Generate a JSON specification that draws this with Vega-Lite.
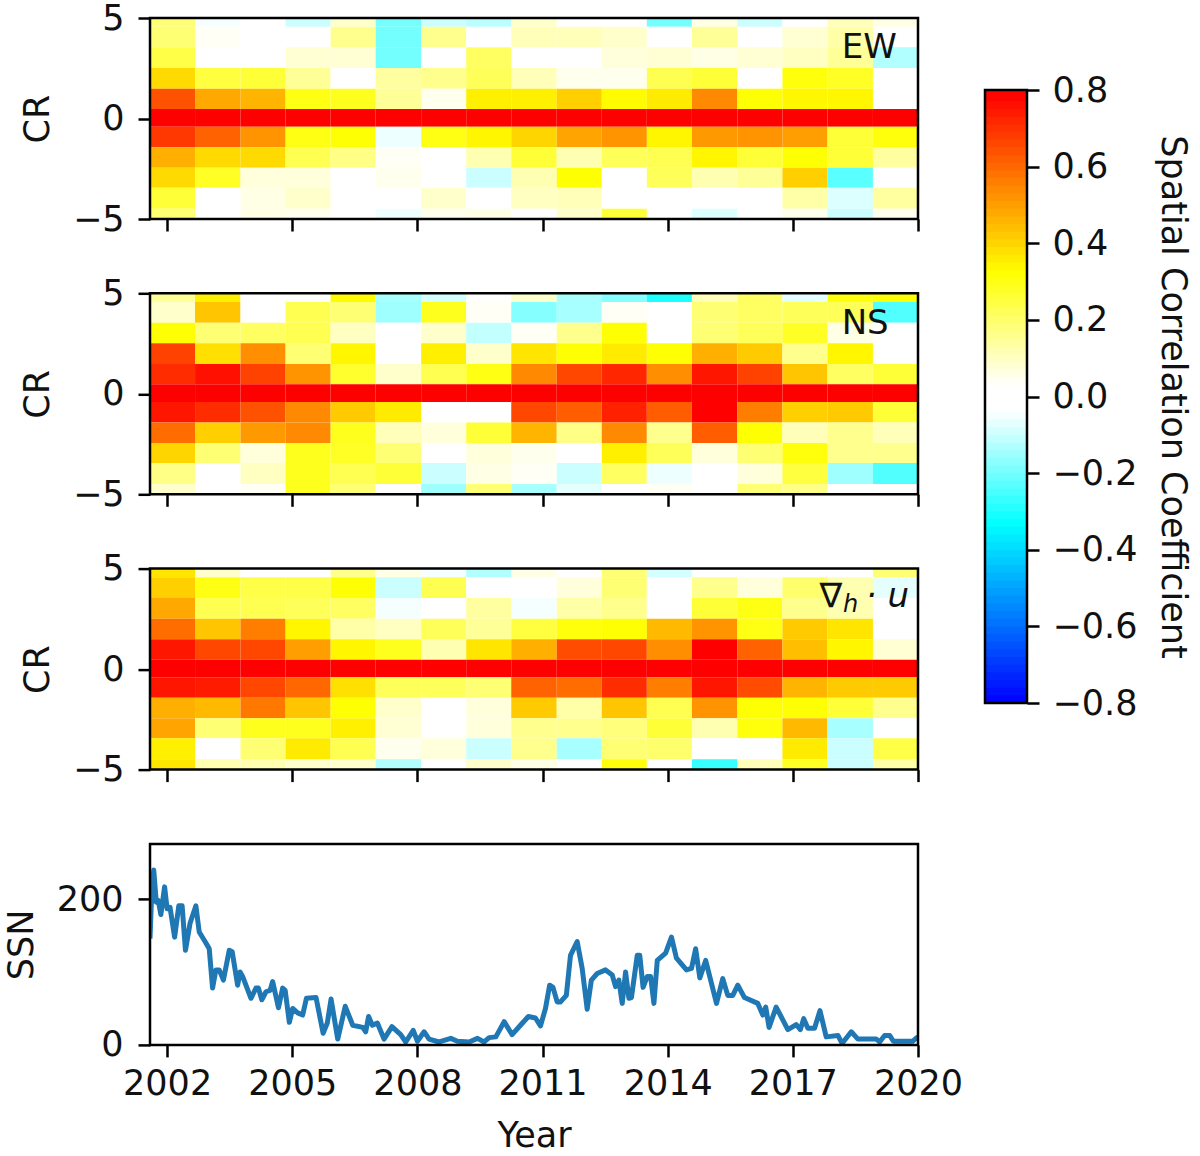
{"$schema":"https://vega.github.io/schema/vega-lite/v6.json","background":"white","padding":{"left":4,"top":1,"right":0,"bottom":0},
"config":{"view":{"stroke":null},"font":"DejaVu Sans","axis":{"labelFont":"DejaVu Sans","titleFont":"DejaVu Sans","labelFontSize":35,"titleFontSize":35,"titleFontWeight":"normal","labelColor":"#111","titleColor":"#111","domain":false,"grid":false,"tickColor":"black","tickWidth":2.5,"tickSize":12,"labelPadding":10,"labelOverlap":false,"labelFlush":false}},
"datasets":{
"cols":[{"n":1,"x0":2001.59,"x1":2002.67},{"n":2,"x0":2002.67,"x1":2003.76},{"n":3,"x0":2003.76,"x1":2004.84},{"n":4,"x0":2004.84,"x1":2005.92},{"n":5,"x0":2005.92,"x1":2007.0},{"n":6,"x0":2007.0,"x1":2008.09},{"n":7,"x0":2008.09,"x1":2009.17},{"n":8,"x0":2009.17,"x1":2010.25},{"n":9,"x0":2010.25,"x1":2011.34},{"n":10,"x0":2011.34,"x1":2012.42},{"n":11,"x0":2012.42,"x1":2013.5},{"n":12,"x0":2013.5,"x1":2014.58},{"n":13,"x0":2014.58,"x1":2015.67},{"n":14,"x0":2015.67,"x1":2016.75},{"n":15,"x0":2016.75,"x1":2017.83},{"n":16,"x0":2017.83,"x1":2018.92},{"n":17,"x0":2018.92,"x1":2020}],
"crs":[{"c":5,"y0":4.57,"y1":5},{"c":4,"y0":3.54,"y1":4.57},{"c":3,"y0":2.51,"y1":3.54},{"c":2,"y0":1.48,"y1":2.51},{"c":1,"y0":0.47,"y1":1.48},{"c":0,"y0":-0.41,"y1":0.47},{"c":-1,"y0":-1.43,"y1":-0.41},{"c":-2,"y0":-2.45,"y1":-1.43},{"c":-3,"y0":-3.44,"y1":-2.45},{"c":-4,"y0":-4.49,"y1":-3.44},{"c":-5,"y0":-5,"y1":-4.49}],
"EW":[
{"n":1,"c":5,"r":0.2},{"n":2,"c":5,"r":-0.05},{"n":3,"c":5,"r":0},{"n":4,"c":5,"r":-0.1},{"n":5,"c":5,"r":0.1},{"n":6,"c":5,"r":-0.2},{"n":7,"c":5,"r":-0.1},{"n":8,"c":5,"r":-0.12},{"n":9,"c":5,"r":0.1},{"n":10,"c":5,"r":0},{"n":11,"c":5,"r":0},{"n":12,"c":5,"r":-0.2},{"n":13,"c":5,"r":0.07},{"n":14,"c":5,"r":-0.1},{"n":15,"c":5,"r":0},{"n":16,"c":5,"r":0.12},{"n":17,"c":5,"r":0.07},
{"n":1,"c":4,"r":0.2},{"n":2,"c":4,"r":0.05},{"n":3,"c":4,"r":0},{"n":4,"c":4,"r":0},{"n":5,"c":4,"r":0.17},{"n":6,"c":4,"r":-0.2},{"n":7,"c":4,"r":0.17},{"n":8,"c":4,"r":0},{"n":9,"c":4,"r":0.12},{"n":10,"c":4,"r":0.12},{"n":11,"c":4,"r":0.1},{"n":12,"c":4,"r":0},{"n":13,"c":4,"r":0.16},{"n":14,"c":4,"r":0},{"n":15,"c":4,"r":0.09},{"n":16,"c":4,"r":0.14},{"n":17,"c":4,"r":0},
{"n":1,"c":3,"r":0.25},{"n":2,"c":3,"r":0},{"n":3,"c":3,"r":0},{"n":4,"c":3,"r":0.09},{"n":5,"c":3,"r":0.09},{"n":6,"c":3,"r":-0.2},{"n":7,"c":3,"r":0},{"n":8,"c":3,"r":0.22},{"n":9,"c":3,"r":0},{"n":10,"c":3,"r":0},{"n":11,"c":3,"r":0.08},{"n":12,"c":3,"r":0.09},{"n":13,"c":3,"r":0.07},{"n":14,"c":3,"r":0.09},{"n":15,"c":3,"r":0.11},{"n":16,"c":3,"r":0.16},{"n":17,"c":3,"r":-0.13},
{"n":1,"c":2,"r":0.4},{"n":2,"c":2,"r":0.26},{"n":3,"c":2,"r":0.27},{"n":4,"c":2,"r":0.16},{"n":5,"c":2,"r":0},{"n":6,"c":2,"r":0.15},{"n":7,"c":2,"r":0.17},{"n":8,"c":2,"r":0.23},{"n":9,"c":2,"r":0.12},{"n":10,"c":2,"r":0.06},{"n":11,"c":2,"r":0.06},{"n":12,"c":2,"r":0.24},{"n":13,"c":2,"r":0.27},{"n":14,"c":2,"r":0},{"n":15,"c":2,"r":0.32},{"n":16,"c":2,"r":0.29},{"n":17,"c":2,"r":0},
{"n":1,"c":1,"r":0.65},{"n":2,"c":1,"r":0.49},{"n":3,"c":1,"r":0.47},{"n":4,"c":1,"r":0.31},{"n":5,"c":1,"r":0.3},{"n":6,"c":1,"r":0.16},{"n":7,"c":1,"r":0.06},{"n":8,"c":1,"r":0.36},{"n":9,"c":1,"r":0.36},{"n":10,"c":1,"r":0.42},{"n":11,"c":1,"r":0.34},{"n":12,"c":1,"r":0.37},{"n":13,"c":1,"r":0.55},{"n":14,"c":1,"r":0.33},{"n":15,"c":1,"r":0.35},{"n":16,"c":1,"r":0.35},{"n":17,"c":1,"r":0},
{"n":1,"c":0,"r":0.8},{"n":2,"c":0,"r":0.8},{"n":3,"c":0,"r":0.8},{"n":4,"c":0,"r":0.8},{"n":5,"c":0,"r":0.8},{"n":6,"c":0,"r":0.8},{"n":7,"c":0,"r":0.8},{"n":8,"c":0,"r":0.8},{"n":9,"c":0,"r":0.8},{"n":10,"c":0,"r":0.8},{"n":11,"c":0,"r":0.8},{"n":12,"c":0,"r":0.8},{"n":13,"c":0,"r":0.8},{"n":14,"c":0,"r":0.8},{"n":15,"c":0,"r":0.8},{"n":16,"c":0,"r":0.8},{"n":17,"c":0,"r":0.8},
{"n":1,"c":-1,"r":0.7},{"n":2,"c":-1,"r":0.62},{"n":3,"c":-1,"r":0.53},{"n":4,"c":-1,"r":0.31},{"n":5,"c":-1,"r":0.33},{"n":6,"c":-1,"r":-0.06},{"n":7,"c":-1,"r":0.31},{"n":8,"c":-1,"r":0.35},{"n":9,"c":-1,"r":0.41},{"n":10,"c":-1,"r":0.5},{"n":11,"c":-1,"r":0.53},{"n":12,"c":-1,"r":0.35},{"n":13,"c":-1,"r":0.52},{"n":14,"c":-1,"r":0.53},{"n":15,"c":-1,"r":0.51},{"n":16,"c":-1,"r":0.27},{"n":17,"c":-1,"r":0.32},
{"n":1,"c":-2,"r":0.48},{"n":2,"c":-2,"r":0.4},{"n":3,"c":-2,"r":0.4},{"n":4,"c":-2,"r":0.24},{"n":5,"c":-2,"r":0.18},{"n":6,"c":-2,"r":0.05},{"n":7,"c":-2,"r":0},{"n":8,"c":-2,"r":0.13},{"n":9,"c":-2,"r":0.27},{"n":10,"c":-2,"r":0.13},{"n":11,"c":-2,"r":0.23},{"n":12,"c":-2,"r":0.24},{"n":13,"c":-2,"r":0.35},{"n":14,"c":-2,"r":0.27},{"n":15,"c":-2,"r":0.33},{"n":16,"c":-2,"r":0.27},{"n":17,"c":-2,"r":0.15},
{"n":1,"c":-3,"r":0.4},{"n":2,"c":-3,"r":0.29},{"n":3,"c":-3,"r":0.08},{"n":4,"c":-3,"r":0.08},{"n":5,"c":-3,"r":0},{"n":6,"c":-3,"r":0.06},{"n":7,"c":-3,"r":0},{"n":8,"c":-3,"r":-0.1},{"n":9,"c":-3,"r":0.13},{"n":10,"c":-3,"r":0.33},{"n":11,"c":-3,"r":0.04},{"n":12,"c":-3,"r":0.23},{"n":13,"c":-3,"r":0.13},{"n":14,"c":-3,"r":0.16},{"n":15,"c":-3,"r":0.42},{"n":16,"c":-3,"r":-0.23},{"n":17,"c":-3,"r":0},
{"n":1,"c":-4,"r":0.27},{"n":2,"c":-4,"r":0},{"n":3,"c":-4,"r":0.07},{"n":4,"c":-4,"r":0.1},{"n":5,"c":-4,"r":0},{"n":6,"c":-4,"r":0},{"n":7,"c":-4,"r":0.1},{"n":8,"c":-4,"r":0},{"n":9,"c":-4,"r":0.11},{"n":10,"c":-4,"r":0.12},{"n":11,"c":-4,"r":0.04},{"n":12,"c":-4,"r":0},{"n":13,"c":-4,"r":0},{"n":14,"c":-4,"r":0},{"n":15,"c":-4,"r":0.14},{"n":16,"c":-4,"r":-0.08},{"n":17,"c":-4,"r":0.15},
{"n":1,"c":-5,"r":0.2},{"n":2,"c":-5,"r":0},{"n":3,"c":-5,"r":0.07},{"n":4,"c":-5,"r":0.06},{"n":5,"c":-5,"r":0},{"n":6,"c":-5,"r":-0.06},{"n":7,"c":-5,"r":0.06},{"n":8,"c":-5,"r":0.07},{"n":9,"c":-5,"r":0},{"n":10,"c":-5,"r":0.1},{"n":11,"c":-5,"r":0.27},{"n":12,"c":-5,"r":0},{"n":13,"c":-5,"r":-0.08},{"n":14,"c":-5,"r":0},{"n":15,"c":-5,"r":0.06},{"n":16,"c":-5,"r":-0.1},{"n":17,"c":-5,"r":0.06}],
"NS":[
{"n":1,"c":5,"r":0.16},{"n":2,"c":5,"r":0.36},{"n":3,"c":5,"r":0},{"n":4,"c":5,"r":0},{"n":5,"c":5,"r":0.34},{"n":6,"c":5,"r":-0.14},{"n":7,"c":5,"r":-0.09},{"n":8,"c":5,"r":0},{"n":9,"c":5,"r":0.1},{"n":10,"c":5,"r":-0.14},{"n":11,"c":5,"r":-0.18},{"n":12,"c":5,"r":-0.3},{"n":13,"c":5,"r":0.12},{"n":14,"c":5,"r":0.22},{"n":15,"c":5,"r":-0.07},{"n":16,"c":5,"r":0.32},{"n":17,"c":5,"r":0.33},
{"n":1,"c":4,"r":0.1},{"n":2,"c":4,"r":0.44},{"n":3,"c":4,"r":0},{"n":4,"c":4,"r":0.24},{"n":5,"c":4,"r":0.2},{"n":6,"c":4,"r":-0.15},{"n":7,"c":4,"r":0.3},{"n":8,"c":4,"r":0.05},{"n":9,"c":4,"r":-0.18},{"n":10,"c":4,"r":-0.14},{"n":11,"c":4,"r":0.05},{"n":12,"c":4,"r":0},{"n":13,"c":4,"r":0.2},{"n":14,"c":4,"r":0.22},{"n":15,"c":4,"r":0.23},{"n":16,"c":4,"r":0.23},{"n":17,"c":4,"r":-0.24},
{"n":1,"c":3,"r":0.33},{"n":2,"c":3,"r":0.2},{"n":3,"c":3,"r":0.22},{"n":4,"c":3,"r":0.24},{"n":5,"c":3,"r":0.11},{"n":6,"c":3,"r":0},{"n":7,"c":3,"r":0.1},{"n":8,"c":3,"r":-0.11},{"n":9,"c":3,"r":0.05},{"n":10,"c":3,"r":0.17},{"n":11,"c":3,"r":0.33},{"n":12,"c":3,"r":0},{"n":13,"c":3,"r":0.2},{"n":14,"c":3,"r":0.23},{"n":15,"c":3,"r":0.29},{"n":16,"c":3,"r":0.07},{"n":17,"c":3,"r":0},
{"n":1,"c":2,"r":0.68},{"n":2,"c":2,"r":0.39},{"n":3,"c":2,"r":0.54},{"n":4,"c":2,"r":0.2},{"n":5,"c":2,"r":0.35},{"n":6,"c":2,"r":0},{"n":7,"c":2,"r":0.36},{"n":8,"c":2,"r":0.1},{"n":9,"c":2,"r":0.38},{"n":10,"c":2,"r":0.33},{"n":11,"c":2,"r":0.37},{"n":12,"c":2,"r":0.33},{"n":13,"c":2,"r":0.48},{"n":14,"c":2,"r":0.43},{"n":15,"c":2,"r":0.17},{"n":16,"c":2,"r":0.35},{"n":17,"c":2,"r":0},
{"n":1,"c":1,"r":0.72},{"n":2,"c":1,"r":0.77},{"n":3,"c":1,"r":0.68},{"n":4,"c":1,"r":0.53},{"n":5,"c":1,"r":0.28},{"n":6,"c":1,"r":0.1},{"n":7,"c":1,"r":0.24},{"n":8,"c":1,"r":0.31},{"n":9,"c":1,"r":0.55},{"n":10,"c":1,"r":0.67},{"n":11,"c":1,"r":0.73},{"n":12,"c":1,"r":0.54},{"n":13,"c":1,"r":0.76},{"n":14,"c":1,"r":0.68},{"n":15,"c":1,"r":0.44},{"n":16,"c":1,"r":0.22},{"n":17,"c":1,"r":0.27},
{"n":1,"c":0,"r":0.8},{"n":2,"c":0,"r":0.8},{"n":3,"c":0,"r":0.8},{"n":4,"c":0,"r":0.8},{"n":5,"c":0,"r":0.8},{"n":6,"c":0,"r":0.8},{"n":7,"c":0,"r":0.8},{"n":8,"c":0,"r":0.8},{"n":9,"c":0,"r":0.8},{"n":10,"c":0,"r":0.8},{"n":11,"c":0,"r":0.8},{"n":12,"c":0,"r":0.8},{"n":13,"c":0,"r":0.8},{"n":14,"c":0,"r":0.8},{"n":15,"c":0,"r":0.8},{"n":16,"c":0,"r":0.8},{"n":17,"c":0,"r":0.8},
{"n":1,"c":-1,"r":0.76},{"n":2,"c":-1,"r":0.72},{"n":3,"c":-1,"r":0.65},{"n":4,"c":-1,"r":0.55},{"n":5,"c":-1,"r":0.43},{"n":6,"c":-1,"r":0.37},{"n":7,"c":-1,"r":0},{"n":8,"c":-1,"r":0},{"n":9,"c":-1,"r":0.67},{"n":10,"c":-1,"r":0.63},{"n":11,"c":-1,"r":0.74},{"n":12,"c":-1,"r":0.63},{"n":13,"c":-1,"r":0.8},{"n":14,"c":-1,"r":0.57},{"n":15,"c":-1,"r":0.42},{"n":16,"c":-1,"r":0.43},{"n":17,"c":-1,"r":0.27},
{"n":1,"c":-2,"r":0.6},{"n":2,"c":-2,"r":0.42},{"n":3,"c":-2,"r":0.52},{"n":4,"c":-2,"r":0.55},{"n":5,"c":-2,"r":0.3},{"n":6,"c":-2,"r":0.12},{"n":7,"c":-2,"r":0.08},{"n":8,"c":-2,"r":0.27},{"n":9,"c":-2,"r":0.47},{"n":10,"c":-2,"r":0.18},{"n":11,"c":-2,"r":0.55},{"n":12,"c":-2,"r":0.17},{"n":13,"c":-2,"r":0.63},{"n":14,"c":-2,"r":0.33},{"n":15,"c":-2,"r":0.12},{"n":16,"c":-2,"r":0.17},{"n":17,"c":-2,"r":0.12},
{"n":1,"c":-3,"r":0.41},{"n":2,"c":-3,"r":0.2},{"n":3,"c":-3,"r":0.08},{"n":4,"c":-3,"r":0.3},{"n":5,"c":-3,"r":0.29},{"n":6,"c":-3,"r":0.2},{"n":7,"c":-3,"r":0},{"n":8,"c":-3,"r":0.08},{"n":9,"c":-3,"r":0.06},{"n":10,"c":-3,"r":0},{"n":11,"c":-3,"r":0.36},{"n":12,"c":-3,"r":0.23},{"n":13,"c":-3,"r":0.08},{"n":14,"c":-3,"r":0.2},{"n":15,"c":-3,"r":0.32},{"n":16,"c":-3,"r":0.17},{"n":17,"c":-3,"r":0.17},
{"n":1,"c":-4,"r":0.18},{"n":2,"c":-4,"r":0},{"n":3,"c":-4,"r":0.11},{"n":4,"c":-4,"r":0.3},{"n":5,"c":-4,"r":0.24},{"n":6,"c":-4,"r":0.27},{"n":7,"c":-4,"r":-0.1},{"n":8,"c":-4,"r":0.07},{"n":9,"c":-4,"r":0.05},{"n":10,"c":-4,"r":-0.1},{"n":11,"c":-4,"r":0.22},{"n":12,"c":-4,"r":-0.06},{"n":13,"c":-4,"r":0},{"n":14,"c":-4,"r":0.08},{"n":15,"c":-4,"r":0.26},{"n":16,"c":-4,"r":-0.15},{"n":17,"c":-4,"r":-0.24},
{"n":1,"c":-5,"r":0.1},{"n":2,"c":-5,"r":0.04},{"n":3,"c":-5,"r":0.05},{"n":4,"c":-5,"r":0.3},{"n":5,"c":-5,"r":0.2},{"n":6,"c":-5,"r":0},{"n":7,"c":-5,"r":-0.15},{"n":8,"c":-5,"r":0.2},{"n":9,"c":-5,"r":-0.14},{"n":10,"c":-5,"r":-0.07},{"n":11,"c":-5,"r":0.04},{"n":12,"c":-5,"r":0.05},{"n":13,"c":-5,"r":0},{"n":14,"c":-5,"r":0.2},{"n":15,"c":-5,"r":0.18},{"n":16,"c":-5,"r":0},{"n":17,"c":-5,"r":0.04}],
"DIV":[
{"n":1,"c":5,"r":0.38},{"n":2,"c":5,"r":0.1},{"n":3,"c":5,"r":0},{"n":4,"c":5,"r":0},{"n":5,"c":5,"r":0.17},{"n":6,"c":5,"r":0.07},{"n":7,"c":5,"r":-0.05},{"n":8,"c":5,"r":-0.13},{"n":9,"c":5,"r":0.07},{"n":10,"c":5,"r":0},{"n":11,"c":5,"r":0.2},{"n":12,"c":5,"r":-0.09},{"n":13,"c":5,"r":0},{"n":14,"c":5,"r":0},{"n":15,"c":5,"r":0},{"n":16,"c":5,"r":0.04},{"n":17,"c":5,"r":0.2},
{"n":1,"c":4,"r":0.42},{"n":2,"c":4,"r":0.31},{"n":3,"c":4,"r":0.25},{"n":4,"c":4,"r":0.25},{"n":5,"c":4,"r":0.33},{"n":6,"c":4,"r":-0.1},{"n":7,"c":4,"r":0.24},{"n":8,"c":4,"r":0},{"n":9,"c":4,"r":0},{"n":10,"c":4,"r":0.08},{"n":11,"c":4,"r":0.2},{"n":12,"c":4,"r":0},{"n":13,"c":4,"r":0.17},{"n":14,"c":4,"r":0.08},{"n":15,"c":4,"r":0.21},{"n":16,"c":4,"r":0.13},{"n":17,"c":4,"r":-0.07},
{"n":1,"c":3,"r":0.49},{"n":2,"c":3,"r":0.24},{"n":3,"c":3,"r":0.24},{"n":4,"c":3,"r":0.23},{"n":5,"c":3,"r":0.22},{"n":6,"c":3,"r":-0.05},{"n":7,"c":3,"r":0},{"n":8,"c":3,"r":0.15},{"n":9,"c":3,"r":-0.05},{"n":10,"c":3,"r":0.14},{"n":11,"c":3,"r":0.17},{"n":12,"c":3,"r":0.03},{"n":13,"c":3,"r":0.27},{"n":14,"c":3,"r":0.31},{"n":15,"c":3,"r":0.17},{"n":16,"c":3,"r":0.13},{"n":17,"c":3,"r":0},
{"n":1,"c":2,"r":0.6},{"n":2,"c":2,"r":0.44},{"n":3,"c":2,"r":0.57},{"n":4,"c":2,"r":0.35},{"n":5,"c":2,"r":0.14},{"n":6,"c":2,"r":0.11},{"n":7,"c":2,"r":0.23},{"n":8,"c":2,"r":0.16},{"n":9,"c":2,"r":0.26},{"n":10,"c":2,"r":0.32},{"n":11,"c":2,"r":0.33},{"n":12,"c":2,"r":0.46},{"n":13,"c":2,"r":0.53},{"n":14,"c":2,"r":0.31},{"n":15,"c":2,"r":0.43},{"n":16,"c":2,"r":0.38},{"n":17,"c":2,"r":0},
{"n":1,"c":1,"r":0.76},{"n":2,"c":1,"r":0.67},{"n":3,"c":1,"r":0.67},{"n":4,"c":1,"r":0.51},{"n":5,"c":1,"r":0.35},{"n":6,"c":1,"r":0.3},{"n":7,"c":1,"r":0.13},{"n":8,"c":1,"r":0.38},{"n":9,"c":1,"r":0.48},{"n":10,"c":1,"r":0.66},{"n":11,"c":1,"r":0.67},{"n":12,"c":1,"r":0.54},{"n":13,"c":1,"r":0.8},{"n":14,"c":1,"r":0.62},{"n":15,"c":1,"r":0.45},{"n":16,"c":1,"r":0.35},{"n":17,"c":1,"r":0.09},
{"n":1,"c":0,"r":0.8},{"n":2,"c":0,"r":0.8},{"n":3,"c":0,"r":0.8},{"n":4,"c":0,"r":0.8},{"n":5,"c":0,"r":0.8},{"n":6,"c":0,"r":0.8},{"n":7,"c":0,"r":0.8},{"n":8,"c":0,"r":0.8},{"n":9,"c":0,"r":0.8},{"n":10,"c":0,"r":0.8},{"n":11,"c":0,"r":0.8},{"n":12,"c":0,"r":0.8},{"n":13,"c":0,"r":0.8},{"n":14,"c":0,"r":0.8},{"n":15,"c":0,"r":0.8},{"n":16,"c":0,"r":0.8},{"n":17,"c":0,"r":0.8},
{"n":1,"c":-1,"r":0.76},{"n":2,"c":-1,"r":0.75},{"n":3,"c":-1,"r":0.67},{"n":4,"c":-1,"r":0.61},{"n":5,"c":-1,"r":0.39},{"n":6,"c":-1,"r":0.23},{"n":7,"c":-1,"r":0.23},{"n":8,"c":-1,"r":0.2},{"n":9,"c":-1,"r":0.62},{"n":10,"c":-1,"r":0.6},{"n":11,"c":-1,"r":0.72},{"n":12,"c":-1,"r":0.57},{"n":13,"c":-1,"r":0.76},{"n":14,"c":-1,"r":0.66},{"n":15,"c":-1,"r":0.47},{"n":16,"c":-1,"r":0.43},{"n":17,"c":-1,"r":0.43},
{"n":1,"c":-2,"r":0.48},{"n":2,"c":-2,"r":0.46},{"n":3,"c":-2,"r":0.58},{"n":4,"c":-2,"r":0.44},{"n":5,"c":-2,"r":0.33},{"n":6,"c":-2,"r":0.1},{"n":7,"c":-2,"r":0},{"n":8,"c":-2,"r":0.08},{"n":9,"c":-2,"r":0.43},{"n":10,"c":-2,"r":0.14},{"n":11,"c":-2,"r":0.44},{"n":12,"c":-2,"r":0.24},{"n":13,"c":-2,"r":0.53},{"n":14,"c":-2,"r":0.33},{"n":15,"c":-2,"r":0.33},{"n":16,"c":-2,"r":0.27},{"n":17,"c":-2,"r":0.17},
{"n":1,"c":-3,"r":0.5},{"n":2,"c":-3,"r":0.2},{"n":3,"c":-3,"r":0.3},{"n":4,"c":-3,"r":0.3},{"n":5,"c":-3,"r":0.36},{"n":6,"c":-3,"r":0.09},{"n":7,"c":-3,"r":0},{"n":8,"c":-3,"r":0.08},{"n":9,"c":-3,"r":0.17},{"n":10,"c":-3,"r":0.17},{"n":11,"c":-3,"r":0.19},{"n":12,"c":-3,"r":0.27},{"n":13,"c":-3,"r":0.13},{"n":14,"c":-3,"r":0.32},{"n":15,"c":-3,"r":0.46},{"n":16,"c":-3,"r":-0.14},{"n":17,"c":-3,"r":0},
{"n":1,"c":-4,"r":0.36},{"n":2,"c":-4,"r":0},{"n":3,"c":-4,"r":0.2},{"n":4,"c":-4,"r":0.37},{"n":5,"c":-4,"r":0.24},{"n":6,"c":-4,"r":0.06},{"n":7,"c":-4,"r":0.08},{"n":8,"c":-4,"r":-0.1},{"n":9,"c":-4,"r":0.17},{"n":10,"c":-4,"r":-0.14},{"n":11,"c":-4,"r":0.2},{"n":12,"c":-4,"r":0.21},{"n":13,"c":-4,"r":0},{"n":14,"c":-4,"r":0},{"n":15,"c":-4,"r":0.37},{"n":16,"c":-4,"r":-0.1},{"n":17,"c":-4,"r":0.25},
{"n":1,"c":-5,"r":0.38},{"n":2,"c":-5,"r":0.13},{"n":3,"c":-5,"r":0.13},{"n":4,"c":-5,"r":0.1},{"n":5,"c":-5,"r":0.1},{"n":6,"c":-5,"r":-0.13},{"n":7,"c":-5,"r":0},{"n":8,"c":-5,"r":0.1},{"n":9,"c":-5,"r":0.07},{"n":10,"c":-5,"r":0},{"n":11,"c":-5,"r":0.32},{"n":12,"c":-5,"r":0},{"n":13,"c":-5,"r":-0.27},{"n":14,"c":-5,"r":0.12},{"n":15,"c":-5,"r":0.29},{"n":16,"c":-5,"r":-0.1},{"n":17,"c":-5,"r":0.14}],
"frame":[{"x0":2001.59,"x1":2020,"y0":-5,"y1":5}],
"ssn":[{"y":2001.59,"s":146},{"y":2001.62,"s":192},{"y":2001.68,"s":240},{"y":2001.74,"s":196},{"y":2001.79,"s":198},{"y":2001.85,"s":179},{"y":2001.94,"s":217},{"y":2002,"s":187},{"y":2002.07,"s":189},{"y":2002.18,"s":148},{"y":2002.28,"s":191},{"y":2002.36,"s":191},{"y":2002.44,"s":130},{"y":2002.55,"s":167},{"y":2002.69,"s":191},{"y":2002.77,"s":155},{"y":2002.92,"s":141},{"y":2003.01,"s":132},{"y":2003.09,"s":78},{"y":2003.17,"s":103},{"y":2003.25,"s":103},{"y":2003.35,"s":89},{"y":2003.49,"s":130},{"y":2003.56,"s":128},{"y":2003.69,"s":82},{"y":2003.75,"s":100},{"y":2003.81,"s":94},{"y":2004.01,"s":64},{"y":2004.13,"s":78},{"y":2004.19,"s":78},{"y":2004.27,"s":62},{"y":2004.37,"s":73},{"y":2004.47,"s":75},{"y":2004.53,"s":87},{"y":2004.67,"s":51},{"y":2004.77,"s":78},{"y":2004.83,"s":75},{"y":2004.93,"s":31},{"y":2005.01,"s":50},{"y":2005.13,"s":44},{"y":2005.25,"s":41},{"y":2005.34,"s":64},{"y":2005.57,"s":65},{"y":2005.74,"s":16},{"y":2005.84,"s":30},{"y":2005.93,"s":63},{"y":2006.09,"s":8},{"y":2006.27,"s":53},{"y":2006.45,"s":27},{"y":2006.69,"s":24},{"y":2006.76,"s":18},{"y":2006.83,"s":39},{"y":2006.92,"s":27},{"y":2007.04,"s":30},{"y":2007.2,"s":8},{"y":2007.39,"s":25},{"y":2007.6,"s":14},{"y":2007.72,"s":4},{"y":2007.9,"s":20},{"y":2008,"s":5},{"y":2008.16,"s":18},{"y":2008.28,"s":8},{"y":2008.52,"s":4},{"y":2008.8,"s":9},{"y":2008.96,"s":5},{"y":2009.24,"s":4},{"y":2009.44,"s":9},{"y":2009.6,"s":4},{"y":2009.72,"s":10},{"y":2009.88,"s":11},{"y":2010.08,"s":32},{"y":2010.27,"s":14},{"y":2010.47,"s":27},{"y":2010.66,"s":39},{"y":2010.83,"s":37},{"y":2010.95,"s":26},{"y":2011.07,"s":50},{"y":2011.17,"s":82},{"y":2011.25,"s":79},{"y":2011.35,"s":59},{"y":2011.43,"s":59},{"y":2011.57,"s":68},{"y":2011.67,"s":123},{"y":2011.83,"s":142},{"y":2011.95,"s":105},{"y":2012.07,"s":49},{"y":2012.17,"s":89},{"y":2012.31,"s":98},{"y":2012.51,"s":103},{"y":2012.67,"s":96},{"y":2012.75,"s":80},{"y":2012.83,"s":89},{"y":2012.91,"s":57},{"y":2012.99,"s":100},{"y":2013.07,"s":64},{"y":2013.13,"s":65},{"y":2013.27,"s":123},{"y":2013.33,"s":123},{"y":2013.41,"s":79},{"y":2013.51,"s":94},{"y":2013.59,"s":94},{"y":2013.67,"s":57},{"y":2013.75,"s":116},{"y":2013.95,"s":126},{"y":2014.09,"s":148},{"y":2014.21,"s":119},{"y":2014.45,"s":103},{"y":2014.57,"s":105},{"y":2014.67,"s":132},{"y":2014.77,"s":92},{"y":2014.91,"s":116},{"y":2015.17,"s":57},{"y":2015.32,"s":91},{"y":2015.44,"s":68},{"y":2015.56,"s":68},{"y":2015.68,"s":82},{"y":2015.84,"s":65},{"y":2016.16,"s":57},{"y":2016.28,"s":41},{"y":2016.35,"s":52},{"y":2016.43,"s":24},{"y":2016.6,"s":52},{"y":2016.88,"s":21},{"y":2017.08,"s":28},{"y":2017.18,"s":21},{"y":2017.26,"s":36},{"y":2017.36,"s":23},{"y":2017.52,"s":23},{"y":2017.65,"s":47},{"y":2017.8,"s":11},{"y":2018.08,"s":13},{"y":2018.18,"s":2},{"y":2018.4,"s":18},{"y":2018.56,"s":8},{"y":2019,"s":8},{"y":2019.08,"s":4},{"y":2019.2,"s":13},{"y":2019.32,"s":13},{"y":2019.41,"s":5},{"y":2019.87,"s":5},{"y":2019.97,"s":10},{"y":2020,"s":6}],
"ramp":[{"lo":-0.8,"hi":-0.77,"r":-0.79},{"lo":-0.78,"hi":-0.75,"r":-0.77},{"lo":-0.76,"hi":-0.73,"r":-0.75},{"lo":-0.74,"hi":-0.71,"r":-0.73},{"lo":-0.72,"hi":-0.69,"r":-0.71},{"lo":-0.7,"hi":-0.67,"r":-0.69},{"lo":-0.68,"hi":-0.65,"r":-0.67},{"lo":-0.66,"hi":-0.63,"r":-0.65},{"lo":-0.64,"hi":-0.61,"r":-0.63},{"lo":-0.62,"hi":-0.59,"r":-0.61},{"lo":-0.6,"hi":-0.57,"r":-0.59},{"lo":-0.58,"hi":-0.55,"r":-0.57},{"lo":-0.56,"hi":-0.53,"r":-0.55},{"lo":-0.54,"hi":-0.51,"r":-0.53},{"lo":-0.52,"hi":-0.49,"r":-0.51},{"lo":-0.5,"hi":-0.47,"r":-0.49},{"lo":-0.48,"hi":-0.45,"r":-0.47},{"lo":-0.46,"hi":-0.43,"r":-0.45},{"lo":-0.44,"hi":-0.41,"r":-0.43},{"lo":-0.42,"hi":-0.39,"r":-0.41},{"lo":-0.4,"hi":-0.37,"r":-0.39},{"lo":-0.38,"hi":-0.35,"r":-0.37},{"lo":-0.36,"hi":-0.33,"r":-0.35},{"lo":-0.34,"hi":-0.31,"r":-0.33},{"lo":-0.32,"hi":-0.29,"r":-0.31},{"lo":-0.3,"hi":-0.27,"r":-0.29},{"lo":-0.28,"hi":-0.25,"r":-0.27},{"lo":-0.26,"hi":-0.23,"r":-0.25},{"lo":-0.24,"hi":-0.21,"r":-0.23},{"lo":-0.22,"hi":-0.19,"r":-0.21},{"lo":-0.2,"hi":-0.17,"r":-0.19},{"lo":-0.18,"hi":-0.15,"r":-0.17},{"lo":-0.16,"hi":-0.13,"r":-0.15},{"lo":-0.14,"hi":-0.11,"r":-0.13},{"lo":-0.12,"hi":-0.09,"r":-0.11},{"lo":-0.1,"hi":-0.07,"r":-0.09},{"lo":-0.08,"hi":-0.05,"r":-0.07},{"lo":-0.06,"hi":-0.03,"r":-0.05},{"lo":-0.04,"hi":0.04,"r":0},{"lo":0.03,"hi":0.06,"r":0.05},{"lo":0.05,"hi":0.08,"r":0.07},{"lo":0.07,"hi":0.1,"r":0.09},{"lo":0.09,"hi":0.12,"r":0.11},{"lo":0.11,"hi":0.14,"r":0.13},{"lo":0.13,"hi":0.16,"r":0.15},{"lo":0.15,"hi":0.18,"r":0.17},{"lo":0.17,"hi":0.2,"r":0.19},{"lo":0.19,"hi":0.22,"r":0.21},{"lo":0.21,"hi":0.24,"r":0.23},{"lo":0.23,"hi":0.26,"r":0.25},{"lo":0.25,"hi":0.28,"r":0.27},{"lo":0.27,"hi":0.3,"r":0.29},{"lo":0.29,"hi":0.32,"r":0.31},{"lo":0.31,"hi":0.34,"r":0.33},{"lo":0.33,"hi":0.36,"r":0.35},{"lo":0.35,"hi":0.38,"r":0.37},{"lo":0.37,"hi":0.4,"r":0.39},{"lo":0.39,"hi":0.42,"r":0.41},{"lo":0.41,"hi":0.44,"r":0.43},{"lo":0.43,"hi":0.46,"r":0.45},{"lo":0.45,"hi":0.48,"r":0.47},{"lo":0.47,"hi":0.5,"r":0.49},{"lo":0.49,"hi":0.52,"r":0.51},{"lo":0.51,"hi":0.54,"r":0.53},{"lo":0.53,"hi":0.56,"r":0.55},{"lo":0.55,"hi":0.58,"r":0.57},{"lo":0.57,"hi":0.6,"r":0.59},{"lo":0.59,"hi":0.62,"r":0.61},{"lo":0.61,"hi":0.64,"r":0.63},{"lo":0.63,"hi":0.66,"r":0.65},{"lo":0.65,"hi":0.68,"r":0.67},{"lo":0.67,"hi":0.7,"r":0.69},{"lo":0.69,"hi":0.72,"r":0.71},{"lo":0.71,"hi":0.74,"r":0.73},{"lo":0.73,"hi":0.76,"r":0.75},{"lo":0.75,"hi":0.78,"r":0.77},{"lo":0.77,"hi":0.8,"r":0.79}]
},
"bounds":"flush",
"hconcat":[
{"bounds":"flush","vconcat":[
{"width":768,"height":201,"layer":[
{"data":{"name":"EW"},"transform":[{"lookup":"n","from":{"data":{"name":"cols"},"key":"n","fields":["x0","x1"]}},{"lookup":"c","from":{"data":{"name":"crs"},"key":"c","fields":["y0","y1"]}}],"mark":{"type":"rect","clip":true},"encoding":{"x":{"field":"x0","type":"quantitative","scale":{"domain":[2001.59,2020],"nice":false,"zero":false},"axis":{"values":[2002,2005,2008,2011,2014,2017,2020],"labels":false,"title":null}},"x2":{"field":"x1"},"y":{"field":"y0","type":"quantitative","scale":{"domain":[-5,5],"nice":false,"zero":false},"axis":{"values":[-5,0,5],"format":"d","labelPadding":14,"title":"CR","titlePadding":17}},"y2":{"field":"y1"},"color":{"field":"r","type":"quantitative","legend":null,"scale":{"domain":[-0.8,-0.333,-0.04,0.04,0.333,0.8],"range":["#0000ff","#00ffff","#ffffff","#ffffff","#ffff00","#ff0000"],"interpolate":"rgb"}}}},
{"data":{"values":[{"x":2018.17,"cr":3.0,"label":"EW"}]},"mark":{"type":"text","align":"left","baseline":"alphabetic","fontSize":34,"color":"#111"},"encoding":{"x":{"field":"x","type":"quantitative"},"y":{"field":"cr","type":"quantitative"},"text":{"field":"label"}}},
{"data":{"name":"frame"},"mark":{"type":"rect","fillOpacity":0,"stroke":"black","strokeWidth":2.5},"encoding":{"x":{"field":"x0","type":"quantitative"},"x2":{"field":"x1"},"y":{"field":"y0","type":"quantitative"},"y2":{"field":"y1"}}}
]},
{"width":768,"height":201,"layer":[
{"data":{"name":"NS"},"transform":[{"lookup":"n","from":{"data":{"name":"cols"},"key":"n","fields":["x0","x1"]}},{"lookup":"c","from":{"data":{"name":"crs"},"key":"c","fields":["y0","y1"]}}],"mark":{"type":"rect","clip":true},"encoding":{"x":{"field":"x0","type":"quantitative","scale":{"domain":[2001.59,2020],"nice":false,"zero":false},"axis":{"values":[2002,2005,2008,2011,2014,2017,2020],"labels":false,"title":null}},"x2":{"field":"x1"},"y":{"field":"y0","type":"quantitative","scale":{"domain":[-5,5],"nice":false,"zero":false},"axis":{"values":[-5,0,5],"format":"d","labelPadding":14,"title":"CR","titlePadding":17}},"y2":{"field":"y1"},"color":{"field":"r","type":"quantitative","legend":null,"scale":{"domain":[-0.8,-0.333,-0.04,0.04,0.333,0.8],"range":["#0000ff","#00ffff","#ffffff","#ffffff","#ffff00","#ff0000"],"interpolate":"rgb"}}}},
{"data":{"values":[{"x":2018.17,"cr":3.0,"label":"NS"}]},"mark":{"type":"text","align":"left","baseline":"alphabetic","fontSize":34,"color":"#111"},"encoding":{"x":{"field":"x","type":"quantitative"},"y":{"field":"cr","type":"quantitative"},"text":{"field":"label"}}},
{"data":{"name":"frame"},"mark":{"type":"rect","fillOpacity":0,"stroke":"black","strokeWidth":2.5},"encoding":{"x":{"field":"x0","type":"quantitative"},"x2":{"field":"x1"},"y":{"field":"y0","type":"quantitative"},"y2":{"field":"y1"}}}
]},
{"width":768,"height":201,"layer":[
{"data":{"name":"DIV"},"transform":[{"lookup":"n","from":{"data":{"name":"cols"},"key":"n","fields":["x0","x1"]}},{"lookup":"c","from":{"data":{"name":"crs"},"key":"c","fields":["y0","y1"]}}],"mark":{"type":"rect","clip":true},"encoding":{"x":{"field":"x0","type":"quantitative","scale":{"domain":[2001.59,2020],"nice":false,"zero":false},"axis":{"values":[2002,2005,2008,2011,2014,2017,2020],"labels":false,"title":null}},"x2":{"field":"x1"},"y":{"field":"y0","type":"quantitative","scale":{"domain":[-5,5],"nice":false,"zero":false},"axis":{"values":[-5,0,5],"format":"d","labelPadding":14,"title":"CR","titlePadding":17}},"y2":{"field":"y1"},"color":{"field":"r","type":"quantitative","legend":null,"scale":{"domain":[-0.8,-0.333,-0.04,0.04,0.333,0.8],"range":["#0000ff","#00ffff","#ffffff","#ffffff","#ffff00","#ff0000"],"interpolate":"rgb"}}}},
{"data":{"values":[{"x":2017.64,"cr":3.08,"label":"∇"}]},"mark":{"type":"text","align":"left","baseline":"alphabetic","fontSize":34,"color":"#111"},"encoding":{"x":{"field":"x","type":"quantitative"},"y":{"field":"cr","type":"quantitative"},"text":{"field":"label"}}},
{"data":{"values":[{"x":2018.2,"cr":2.84,"label":"h"}]},"mark":{"type":"text","align":"left","baseline":"alphabetic","fontSize":24,"fontStyle":"italic","color":"#111"},"encoding":{"x":{"field":"x","type":"quantitative"},"y":{"field":"cr","type":"quantitative"},"text":{"field":"label"}}},
{"data":{"values":[{"x":2018.75,"cr":3.08,"label":"· u"}]},"mark":{"type":"text","align":"left","baseline":"alphabetic","fontSize":34,"fontStyle":"italic","color":"#111"},"encoding":{"x":{"field":"x","type":"quantitative"},"y":{"field":"cr","type":"quantitative"},"text":{"field":"label"}}},
{"data":{"name":"frame"},"mark":{"type":"rect","fillOpacity":0,"stroke":"black","strokeWidth":2.5},"encoding":{"x":{"field":"x0","type":"quantitative"},"x2":{"field":"x1"},"y":{"field":"y0","type":"quantitative"},"y2":{"field":"y1"}}}
]},
{"width":768,"height":201,"layer":[
{"data":{"name":"ssn"},"mark":{"type":"line","clip":true,"color":"#1f77b4","strokeWidth":5,"strokeJoin":"round"},"encoding":{"x":{"field":"y","type":"quantitative","scale":{"domain":[2001.59,2020],"nice":false,"zero":false},"axis":{"values":[2002,2005,2008,2011,2014,2017,2020],"format":"d","title":"Year","titlePadding":17}},"y":{"field":"s","type":"quantitative","scale":{"domain":[0,276],"nice":false},"axis":{"values":[0,200],"format":"d","labelPadding":15,"title":"SSN","titlePadding":17}}}},
{"data":{"values":[{"a":2001.59,"b":2020,"c":0,"d":276}]},"mark":{"type":"rect","fillOpacity":0,"stroke":"black","strokeWidth":2.5},"encoding":{"x":{"field":"a","type":"quantitative"},"x2":{"field":"b"},"y":{"field":"c","type":"quantitative"},"y2":{"field":"d"}}}
]}
],"spacing":74.3},
{"width":42,"height":1027,"layer":[
{"data":{"name":"ramp"},"mark":{"type":"rect"},"encoding":{"y":{"field":"lo","type":"quantitative","scale":{"domain":[-0.8,0.8],"range":[685,72],"nice":false,"zero":false},"axis":{"orient":"right","values":[-0.8,-0.6,-0.4,-0.2,0,0.2,0.4,0.6,0.8],"format":".1f","labelPadding":13,"title":"Spatial Correlation Coefficient","titleAngle":90,"titlePadding":18}},"y2":{"field":"hi"},"color":{"field":"r","type":"quantitative","legend":null,"scale":{"domain":[-0.8,-0.333,-0.04,0.04,0.333,0.8],"range":["#0000ff","#00ffff","#ffffff","#ffffff","#ffff00","#ff0000"],"interpolate":"rgb"}}}},
{"data":{"values":[{"lo":-0.8,"hi":0.8}]},"mark":{"type":"rect","fillOpacity":0,"stroke":"black","strokeWidth":2.5},"encoding":{"y":{"field":"lo","type":"quantitative"},"y2":{"field":"hi"}}}
]}
],"spacing":835}
